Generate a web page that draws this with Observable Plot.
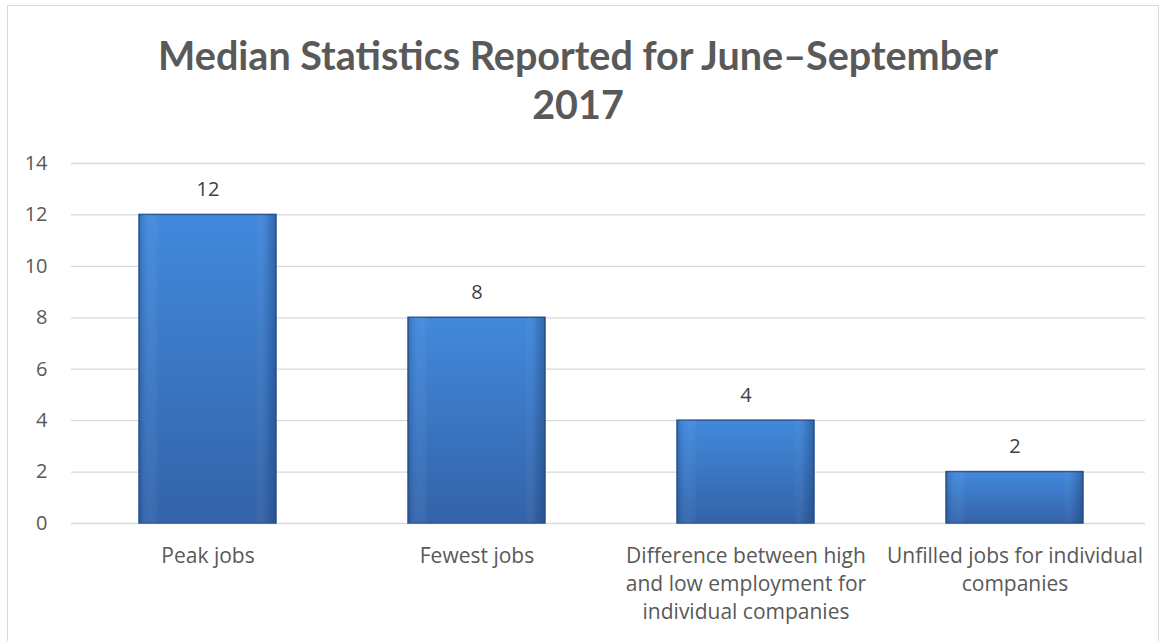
<!DOCTYPE html>
<html>
<head>
<meta charset="utf-8">
<script src="https://cdn.jsdelivr.net/npm/d3@7"></script>
<script src="https://cdn.jsdelivr.net/npm/@observablehq/plot@0.6"></script>
<style>
  html, body { margin: 0; padding: 0; background: #fff; }
  body { width: 1166px; height: 641px; overflow: hidden; position: relative; font-family: "Open Sans", sans-serif; }
  #frame { position: absolute; left: 7px; top: 5px; width: 1152px; height: 660px; border: 1px solid #d9d9d9; box-sizing: border-box; }
  #title { position: absolute; left: 0; top: 30px; width: 1156px; text-align: center; font-family: Lato, sans-serif; font-weight: bold; font-size: 39.5px; line-height: 49px; color: #595959; }
  #title div { width: 900px; margin: 0 auto; }
  #chart { position: absolute; left: 0; top: 140px; }
</style>
</head>
<body>
<div id="frame"></div>
<div id="title"><div>Median Statistics Reported for June–September 2017</div></div>
<div id="chart"></div>
<script>
const categories = [
  "Peak jobs",
  "Fewest jobs",
  "Difference between high and low employment for individual companies",
  "Unfilled jobs for individual companies"
];
const tickLabels = [
  "Peak jobs",
  "Fewest jobs",
  "Difference between high\nand low employment for\nindividual companies",
  "Unfilled jobs for individual\ncompanies"
];
const values = [12, 8, 4, 2];
const yTicks = [0, 2, 4, 6, 8, 10, 12, 14];

const data = categories.map((c, i) => ({category: c, value: values[i]}));
const labelOf = new Map(categories.map((c, i) => [c, tickLabels[i]]));

const defs = () => {
  const svgNS = "http://www.w3.org/2000/svg";
  const g = document.createElementNS(svgNS, "defs");
  g.innerHTML = `
    <linearGradient id="vgrad" x1="0" y1="0" x2="0" y2="1">
      <stop offset="0" stop-color="#4289dc"/>
      <stop offset="1" stop-color="#3363a8"/>
    </linearGradient>
    <linearGradient id="hgrad" x1="0" y1="0" x2="1" y2="0">
      <stop offset="0" stop-color="#1c3d6e" stop-opacity="0.35"/>
      <stop offset="0.06" stop-color="#5a9ae6" stop-opacity="0.15"/>
      <stop offset="0.15" stop-color="#ffffff" stop-opacity="0"/>
      <stop offset="0.85" stop-color="#ffffff" stop-opacity="0"/>
      <stop offset="0.94" stop-color="#1c3d6e" stop-opacity="0.15"/>
      <stop offset="1" stop-color="#1c3d6e" stop-opacity="0.45"/>
    </linearGradient>`;
  return g;
};

const chart = Plot.plot({
  width: 1166,
  height: 501,
  marginTop: 23,
  marginBottom: 118,
  marginLeft: 71,
  marginRight: 21,
  style: {fontFamily: "'Open Sans', sans-serif", fontSize: "20px", color: "#595959", background: "transparent"},
  x: {domain: categories, paddingInner: 0.49, paddingOuter: 0.234, align: 0.52, label: null},
  y: {domain: [0, 14], label: null},
  marks: [
    defs,
    Plot.gridY(yTicks, {stroke: "#d9d9d9", strokeOpacity: 1, strokeWidth: 1.3}),
    Plot.axisY(yTicks, {tickSize: 0, tickPadding: 24, fontSize: 20, fill: "#595959", label: null}),
    Plot.axisX({tickSize: 0, tickPadding: 20, fontSize: 21, fill: "#595959", lineHeight: 1.33, lineAnchor: "top", tickFormat: d => labelOf.get(d), label: null}),
    Plot.barY(data, {x: "category", y: "value", fill: "url(#vgrad)", stroke: "#2a5592", strokeWidth: 1.5}),
    Plot.barY(data, {x: "category", y: "value", fill: "url(#hgrad)"}),
    Plot.text(data, {x: "category", y: "value", text: d => String(d.value), dy: -25, fontSize: 20, fill: "#404040"})
  ]
});
document.getElementById("chart").appendChild(chart);
</script>
</body>
</html>
